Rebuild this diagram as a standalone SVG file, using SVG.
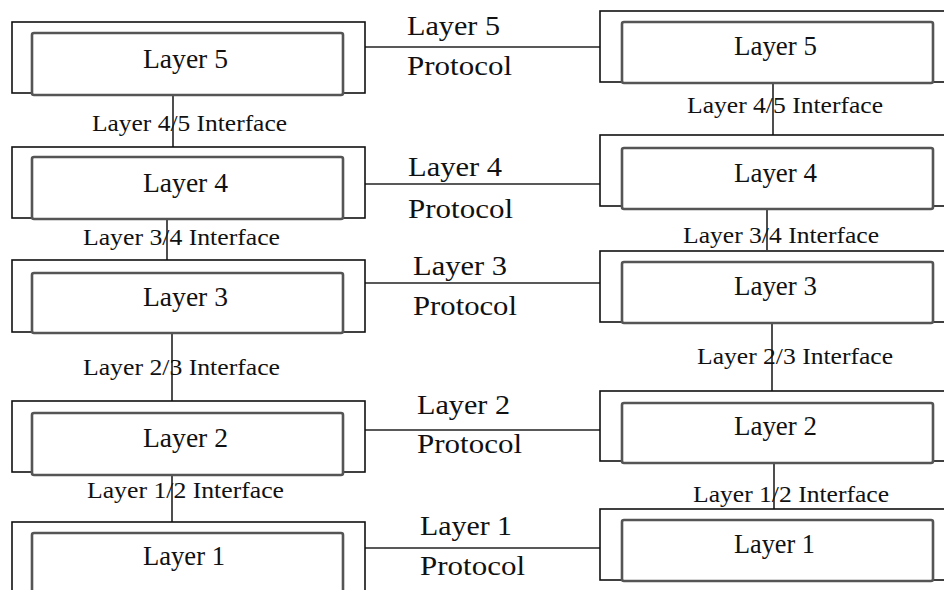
<svg xmlns="http://www.w3.org/2000/svg" width="944" height="590" viewBox="0 0 944 590">
  <style>
    .outer { fill: #ffffff; stroke: #111111; stroke-width: 1.6; }
    .inner { fill: #ffffff; stroke: #555555; stroke-width: 2.6; }
    .wire { stroke: #222222; stroke-width: 1.6; fill: none; }
    text { font-family: "Liberation Serif", "Times New Roman", serif; fill: #111111; }
    .name { font-size: 28px; }
    .proto { font-size: 27px; }
    .iface { font-size: 23px; }
  </style>
  <rect x="0" y="0" width="944" height="590" fill="#ffffff"/>

  <!-- connectors: peer protocols (horizontal) and layer interfaces (vertical) -->
  <g id="connectors">
    <line class="wire" x1="365" y1="47" x2="600" y2="47"/>
    <line class="wire" x1="365" y1="184" x2="600" y2="184"/>
    <line class="wire" x1="365" y1="283" x2="600" y2="283"/>
    <line class="wire" x1="365" y1="430" x2="600" y2="430"/>
    <line class="wire" x1="365" y1="548" x2="600" y2="548"/>

    <line class="wire" x1="173" y1="95" x2="173" y2="157"/>
    <line class="wire" x1="167" y1="217" x2="167" y2="260"/>
    <line class="wire" x1="172" y1="330" x2="172" y2="401"/>
    <line class="wire" x1="172" y1="475" x2="172" y2="522"/>

    <line class="wire" x1="773" y1="80" x2="773" y2="150"/>
    <line class="wire" x1="767" y1="204" x2="767" y2="250"/>
    <line class="wire" x1="772" y1="315" x2="772" y2="391"/>
    <line class="wire" x1="774" y1="460" x2="774" y2="509"/>
  </g>

  <!-- left stack -->
  <g id="left-layer5">
    <rect class="outer" x="12" y="22" width="353" height="71"/>
    <rect class="inner" x="32" y="33" width="311" height="62" rx="2"/>
    <text class="name" x="143" y="68" textLength="85" lengthAdjust="spacingAndGlyphs">Layer 5</text>
  </g>
  <g id="left-layer4">
    <rect class="outer" x="12" y="147" width="353" height="71"/>
    <rect class="inner" x="32" y="157" width="311" height="62" rx="2"/>
    <text class="name" x="143" y="192" textLength="85" lengthAdjust="spacingAndGlyphs">Layer 4</text>
  </g>
  <g id="left-layer3">
    <rect class="outer" x="12" y="260" width="353" height="72"/>
    <rect class="inner" x="32" y="273" width="311" height="60" rx="2"/>
    <text class="name" x="143" y="306" textLength="85" lengthAdjust="spacingAndGlyphs">Layer 3</text>
  </g>
  <g id="left-layer2">
    <rect class="outer" x="12" y="401" width="353" height="71"/>
    <rect class="inner" x="32" y="413" width="311" height="62" rx="2"/>
    <text class="name" x="143" y="447" textLength="85" lengthAdjust="spacingAndGlyphs">Layer 2</text>
  </g>
  <g id="left-layer1">
    <rect class="outer" x="12" y="522" width="353" height="90"/>
    <rect class="inner" x="32" y="533" width="311" height="80" rx="2"/>
    <text class="name" x="143" y="565" textLength="82" lengthAdjust="spacingAndGlyphs">Layer 1</text>
  </g>

  <!-- right stack -->
  <g id="right-layer5">
    <rect class="outer" x="600" y="11" width="360" height="71"/>
    <rect class="inner" x="622" y="22" width="311" height="61" rx="2"/>
    <text class="name" x="734" y="55" textLength="83" lengthAdjust="spacingAndGlyphs">Layer 5</text>
  </g>
  <g id="right-layer4">
    <rect class="outer" x="600" y="135" width="360" height="71"/>
    <rect class="inner" x="622" y="148" width="311" height="61" rx="2"/>
    <text class="name" x="734" y="182" textLength="83" lengthAdjust="spacingAndGlyphs">Layer 4</text>
  </g>
  <g id="right-layer3">
    <rect class="outer" x="600" y="251" width="360" height="71"/>
    <rect class="inner" x="622" y="262" width="311" height="61" rx="2"/>
    <text class="name" x="734" y="295" textLength="83" lengthAdjust="spacingAndGlyphs">Layer 3</text>
  </g>
  <g id="right-layer2">
    <rect class="outer" x="600" y="391" width="360" height="70"/>
    <rect class="inner" x="622" y="403" width="311" height="60" rx="2"/>
    <text class="name" x="734" y="435" textLength="83" lengthAdjust="spacingAndGlyphs">Layer 2</text>
  </g>
  <g id="right-layer1">
    <rect class="outer" x="600" y="509" width="360" height="71"/>
    <rect class="inner" x="622" y="520" width="311" height="61" rx="2"/>
    <text class="name" x="734" y="553" textLength="81" lengthAdjust="spacingAndGlyphs">Layer 1</text>
  </g>

  <!-- protocol labels -->
  <g id="protocol-labels">
    <text class="proto" x="407" y="35" textLength="93" lengthAdjust="spacingAndGlyphs">Layer 5</text>
    <text class="proto" x="407" y="75" textLength="105" lengthAdjust="spacingAndGlyphs">Protocol</text>
    <text class="proto" x="408" y="176" textLength="94" lengthAdjust="spacingAndGlyphs">Layer 4</text>
    <text class="proto" x="408" y="218" textLength="105" lengthAdjust="spacingAndGlyphs">Protocol</text>
    <text class="proto" x="413" y="275" textLength="94" lengthAdjust="spacingAndGlyphs">Layer 3</text>
    <text class="proto" x="413" y="315" textLength="104" lengthAdjust="spacingAndGlyphs">Protocol</text>
    <text class="proto" x="417" y="414" textLength="93" lengthAdjust="spacingAndGlyphs">Layer 2</text>
    <text class="proto" x="417" y="453" textLength="105" lengthAdjust="spacingAndGlyphs">Protocol</text>
    <text class="proto" x="420" y="535" textLength="92" lengthAdjust="spacingAndGlyphs">Layer 1</text>
    <text class="proto" x="420" y="575" textLength="105" lengthAdjust="spacingAndGlyphs">Protocol</text>
  </g>

  <!-- interface labels -->
  <g id="interface-labels">
    <text class="iface" x="92" y="131" textLength="195" lengthAdjust="spacingAndGlyphs">Layer 4/5 Interface</text>
    <text class="iface" x="83" y="245" textLength="197" lengthAdjust="spacingAndGlyphs">Layer 3/4 Interface</text>
    <text class="iface" x="83" y="375" textLength="197" lengthAdjust="spacingAndGlyphs">Layer 2/3 Interface</text>
    <text class="iface" x="87" y="498" textLength="197" lengthAdjust="spacingAndGlyphs">Layer 1/2 Interface</text>
    <text class="iface" x="687" y="113" textLength="196" lengthAdjust="spacingAndGlyphs">Layer 4/5 Interface</text>
    <text class="iface" x="683" y="243" textLength="196" lengthAdjust="spacingAndGlyphs">Layer 3/4 Interface</text>
    <text class="iface" x="697" y="364" textLength="196" lengthAdjust="spacingAndGlyphs">Layer 2/3 Interface</text>
    <text class="iface" x="693" y="502" textLength="196" lengthAdjust="spacingAndGlyphs">Layer 1/2 Interface</text>
  </g>
</svg>
